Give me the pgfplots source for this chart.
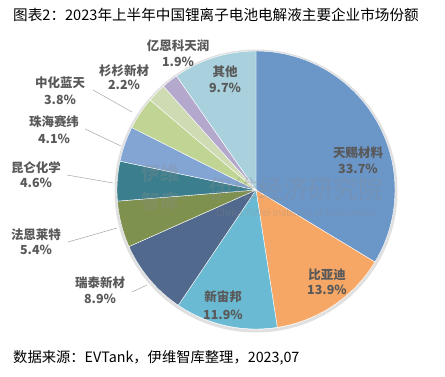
\documentclass[border=0pt]{standalone}
\usepackage{fontspec}
\setmainfont{Noto Sans CJK SC}
\usepackage{pgfplots}
\pgfplotsset{compat=1.18}
\definecolor{lab}{HTML}{595959}
\definecolor{cA}{HTML}{6B96C8}
\definecolor{cB}{HTML}{F6A765}
\definecolor{cC}{HTML}{6BBAD3}
\definecolor{cD}{HTML}{50698C}
\definecolor{cE}{HTML}{7F914F}
\definecolor{cF}{HTML}{3B7F8E}
\definecolor{cG}{HTML}{82A5D4}
\definecolor{cH}{HTML}{C0D493}
\definecolor{cI}{HTML}{CFDCB3}
\definecolor{cJ}{HTML}{B4A8CC}
\definecolor{cK}{HTML}{A8D0DD}
\def\cx{256}\def\cy{186}\def\rr{139}
% degrees per percent: 360/100.1 (shares sum to 100.1)
\def\dpp{3.596404}
% color, cumulative share before slice, share
\newcommand{\slice}[3]{%
 \pgfmathsetmacro\aS{90-\dpp*#2}%
 \pgfmathsetmacro\aE{90-\dpp*#2-\dpp*#3}%
 \edef\temp{\noexpand\addplot[fill=#1, draw=white, line width=0.4pt, domain=\aE:\aS, samples=60, variable=\noexpand\t]}%
 \temp ({\cx+\rr*cos(\t)},{\cy+\rr*sin(\t)}) -- (axis cs:\cx,\cy) -- cycle;}
\newcommand{\lbl}[4]{\node[text=lab,font=\fontsize{12.5}{14}\selectfont\bfseries] at (axis cs:#1,#2) {#3};}
\begin{document}
\begin{tikzpicture}
\begin{axis}[scale only axis, width=445pt, height=376pt,
  xmin=0, xmax=445, ymin=0, ymax=376, hide axis, clip=false]
\draw[draw=none] (rel axis cs:0,0) rectangle (rel axis cs:1,1);
% shadow
\draw[black!12, line width=3pt] (axis cs:\cx,\cy-1) circle[radius=140pt];
\slice{cA}{0}{33.7}
\slice{cB}{33.7}{13.9}
\slice{cC}{47.6}{11.9}
\slice{cD}{59.5}{8.9}
\slice{cE}{68.4}{5.4}
\slice{cF}{73.8}{4.6}
\slice{cG}{78.4}{4.1}
\slice{cH}{82.5}{3.8}
\slice{cI}{86.3}{2.2}
\slice{cJ}{88.5}{1.9}
\slice{cK}{90.4}{9.7}
% watermark
\node[text=black!45, opacity=0.3, font=\fontsize{25}{27}\selectfont] at (axis cs:296,187) {伊维经济研究院};
\node[text=black!45, opacity=0.3, font=\fontsize{10}{12}\selectfont] at (axis cs:296,163) {China YiWei Institute of Economics};
\node[text=black!45, opacity=0.25, font=\fontsize{19}{21}\selectfont\bfseries] at (axis cs:160,203) {伊维};
\node[text=black!45, opacity=0.25, font=\fontsize{19}{21}\selectfont\bfseries] at (axis cs:160,175) {智库};
% leader lines
\draw[black!35, line width=0.5pt] (axis cs:93,286) -- (axis cs:132,264);
\draw[black!35, line width=0.5pt] (axis cs:85,247) -- (axis cs:121,230);
\draw[black!35, line width=0.5pt] (axis cs:67,201) -- (axis cs:113,193);
\draw[black!35, line width=0.5pt] (axis cs:68,134) -- (axis cs:117,148);
\draw[black!35, line width=0.5pt] (axis cs:132,84) -- (axis cs:147,91);
% labels
\lbl{358}{223}{天赐材料}{}\lbl{358}{207}{33.7\%}{}
\lbl{327}{101}{比亚迪}{}\lbl{327}{86}{13.9\%}{}
\lbl{223}{79}{新宙邦}{}\lbl{223}{61}{11.9\%}{}
\lbl{100}{93}{瑞泰新材}{}\lbl{100}{77}{8.9\%}{}
\lbl{36}{141}{法恩莱特}{}\lbl{36}{126}{5.4\%}{}
\lbl{36}{208}{昆仑化学}{}\lbl{36}{193}{4.6\%}{}
\lbl{54}{254}{珠海赛纬}{}\lbl{54}{237}{4.1\%}{}
\lbl{60}{293}{中化蓝天}{}\lbl{60}{276}{3.8\%}{}
\lbl{124}{305}{杉杉新材}{}\lbl{124}{291}{2.2\%}{}
\lbl{178}{330}{亿恩科天润}{}\lbl{178}{314}{1.9\%}{}
\lbl{225}{304}{其他}{}\lbl{225}{288}{9.7\%}{}
% title and source
\node[anchor=west, inner sep=0pt, font=\fontsize{14.6}{16}\selectfont] at (axis cs:13,361) {图表2：2023年上半年中国锂离子电池电解液主要企业市场份额};
\node[anchor=west, inner sep=0pt, font=\fontsize{14.3}{16}\selectfont] at (axis cs:13,18) {数据来源：EVTank，伊维智库整理，2023,07};
\end{axis}
\end{tikzpicture}
\end{document}
